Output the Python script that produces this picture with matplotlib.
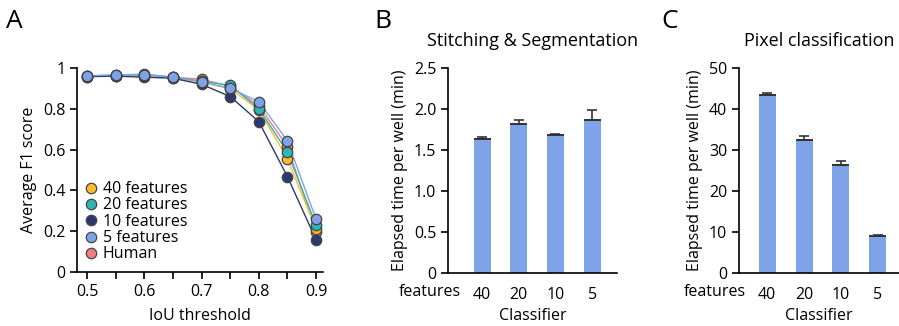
import matplotlib
matplotlib.use("Agg")
import matplotlib.pyplot as plt
import numpy as np

plt.rcParams['font.family'] = ['Open Sans', 'DejaVu Sans']
plt.rcParams['font.size'] = 11.5

# Panel A data
iou = [0.5, 0.55, 0.6, 0.65, 0.7, 0.75, 0.8, 0.85, 0.9]
f40 = [0.958, 0.960, 0.960, 0.952, 0.930, 0.898, 0.795, 0.555, 0.210]
f20 = [0.960, 0.965, 0.970, 0.955, 0.935, 0.915, 0.800, 0.588, 0.229]
f10 = [0.958, 0.960, 0.955, 0.950, 0.920, 0.860, 0.737, 0.467, 0.157]
f5 = [0.962, 0.967, 0.965, 0.957, 0.933, 0.900, 0.835, 0.642, 0.258]
human = [0.960, 0.962, 0.960, 0.955, 0.945, 0.910, 0.815, 0.614, 0.198]

series_names = ['40 features', '20 features', '10 features', '5 features', 'Human']
series_colors = ['#F9BD32', '#2DB6B4', '#2B3A6A', '#7EA2EA', '#F27D80']

# Panel B/C data
classifiers = ['40', '20', '10', '5']
stitch_mean = [1.64, 1.82, 1.68, 1.87]
stitch_err = [0.02, 0.05, 0.02, 0.12]
pixel_mean = [43.5, 32.5, 26.4, 9.0]
pixel_err = [0.3, 0.8, 1.0, 0.2]

W, H = 899, 326
fig = plt.figure(figsize=(W / 100, H / 100), dpi=100)

def ax_px(l, r, t, b):
    return fig.add_axes([l / W, 1 - b / H, (r - l) / W, (b - t) / H])

FS = 11.5

# ---- Panel A
axA = ax_px(77, 323, 68, 272)
data = [f40, f20, f10, f5, human]
for i in [4, 0, 1, 2, 3]:
    axA.plot(iou, data[i], '-', color=series_colors[i], lw=1.0, zorder=2)
for i in [4, 0, 1, 2, 3]:
    axA.plot(iou, data[i], 'o', color=series_colors[i], ms=7.5, mec='#444444',
             mew=0.9, zorder=3, clip_on=False, label=series_names[i])
axA.set_xlim(0.4825, 0.912)
axA.set_ylim(0, 1)
axA.set_xticks([0.5, 0.6, 0.7, 0.8, 0.9])
axA.set_xticks([0.55, 0.65, 0.75, 0.85], minor=True)
axA.set_yticks([0, 0.2, 0.4, 0.6, 0.8, 1])
axA.set_yticklabels(['0', '0.2', '0.4', '0.6', '0.8', '1'])
axA.tick_params(which='both', direction='out', length=5, width=1.2, color='black',
                labelsize=FS)
axA.set_xlabel('IoU threshold', labelpad=6, fontsize=FS)
axA.set_ylabel('Average F1 score', labelpad=4, fontsize=FS)
handles, labels = axA.get_legend_handles_labels()
hmap = dict(zip(labels, handles))
leg = axA.legend([hmap[n] for n in series_names], series_names, loc='lower left',
                 bbox_to_anchor=(0.0, 0.0), frameon=False, handlelength=0.6,
                 handletextpad=0.4, labelspacing=0.02, borderaxespad=0.2,
                 fontsize=FS)
for h in leg.legend_handles:
    h.set_markersize(7.5)
for s in ['top', 'right']:
    axA.spines[s].set_visible(False)
for s in ['left', 'bottom']:
    axA.spines[s].set_linewidth(1.2)

# ---- Bar panels
bar_color = '#7FA3E8'

def bar_panel(ax, means, errs, xlim, ylim, yticks, yticklabels, title, feat_x):
    x = np.arange(len(classifiers))
    w = 0.46
    ax.bar(x, means, width=w, color=bar_color, zorder=2)
    ax.errorbar(x, means, yerr=[np.zeros(len(errs)), errs], fmt='none',
                ecolor='#333333', elinewidth=1.2, capsize=3.8, capthick=1.2, zorder=3)
    ax.hlines(means, x - w / 2, x + w / 2, color='#333333', lw=1.4, zorder=3)
    ax.set_xlim(*xlim)
    ax.set_ylim(*ylim)
    ax.set_xticks(x)
    ax.set_xticklabels(classifiers)
    ax.set_yticks(yticks)
    ax.set_yticklabels(yticklabels)
    ax.tick_params(axis='x', length=0, pad=10, labelsize=FS)
    ax.tick_params(axis='y', direction='out', length=5, width=1.2, labelsize=FS)
    for s in ['top', 'right']:
        ax.spines[s].set_visible(False)
    for s in ['left', 'bottom']:
        ax.spines[s].set_linewidth(1.2)
    ax.set_xlabel('Classifier', labelpad=4, fontsize=FS)
    ax.set_ylabel('Elapsed time per well (min)', labelpad=4, fontsize=FS)
    ax.set_title(title, fontsize=13, pad=16)
    ax.text(feat_x, -0.093, 'features', transform=ax.transAxes, ha='right',
            va='center', fontsize=FS)

axB = ax_px(448, 617, 68, 273)
bar_panel(axB, stitch_mean, stitch_err, (-0.93, 3.68), (0, 2.5),
          [0, 0.5, 1.0, 1.5, 2.0, 2.5], ['0', '0.5', '1.0', '1.5', '2.0', '2.5'],
          'Stitching & Segmentation', 0.077)

axC = ax_px(739, 899, 68, 273)
bar_panel(axC, pixel_mean, pixel_err, (-0.76, 3.57), (0, 50),
          [0, 10, 20, 30, 40, 50], ['0', '10', '20', '30', '40', '50'],
          'Pixel classification', 0.044)

# panel letters
fig.text(6 / W, 1 - 21 / H, 'A', fontsize=19, va='center', ha='left')
fig.text(374 / W, 1 - 21 / H, 'B', fontsize=19, va='center', ha='left')
fig.text(661 / W, 1 - 21 / H, 'C', fontsize=19, va='center', ha='left')

fig.savefig('out.png', dpi=100)
